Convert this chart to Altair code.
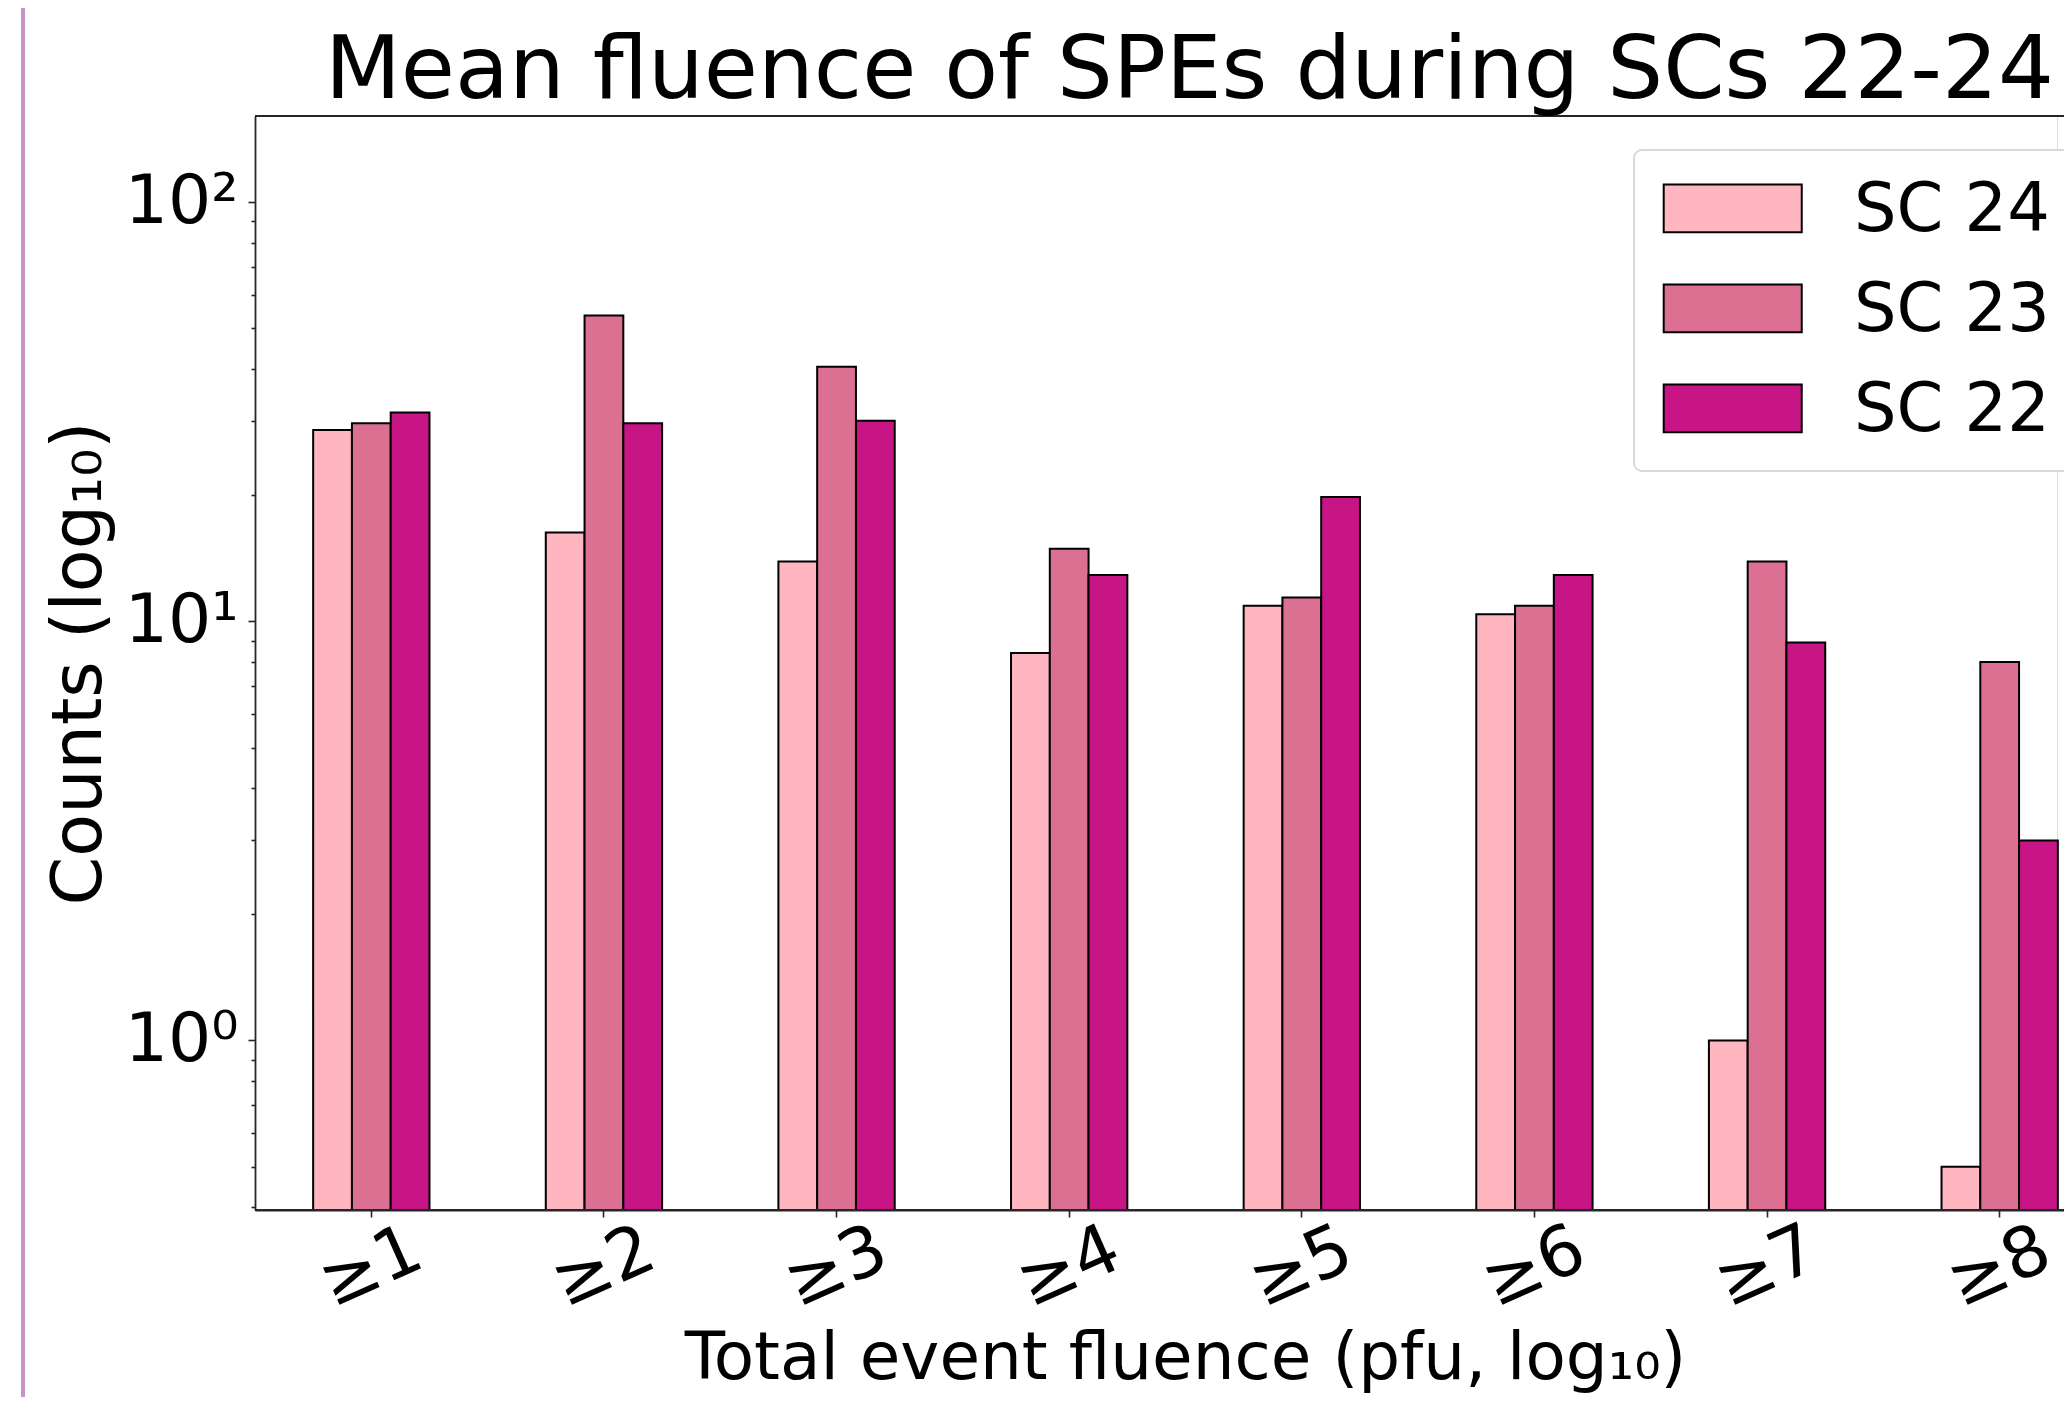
import altair as alt
import pandas as pd

# ---- data ----
title_text = "Mean fluence of SPEs during SCs 22-24"
categories = ["≥1", "≥2", "≥3", "≥4", "≥5", "≥6", "≥7", "≥8"]
series_names = ["SC 24", "SC 23", "SC 22"]
sc24 = [28.6, 16.3, 13.9, 8.4, 10.9, 10.4, 1.0, 0.5]
sc23 = [29.7, 53.7, 40.5, 14.9, 11.4, 10.9, 13.9, 8.0]
sc22 = [31.5, 29.7, 30.1, 12.9, 19.8, 12.9, 8.9, 3.0]
series_colors = ["#FFB6C1", "#DB7093", "#C71585"]
y_tick_values = [1, 10, 100]
y_tick_labels = ["10⁰", "10¹", "10²"]
y_minor_values = [0.4, 0.5, 0.6, 0.7, 0.8, 0.9, 2, 3, 4, 5, 6, 7, 8, 9,
                  20, 30, 40, 50, 60, 70, 80, 90]

rows = []
for name, vals in zip(series_names, [sc24, sc23, sc22]):
    for c, v in zip(categories, vals):
        rows.append({"cat": c, "series": name, "count": v})
df = pd.DataFrame(rows)

FONT = "DejaVu Sans"
W_VIEW = 1802
W_FULL = 1861
H = 1094
PAD_TOP = 108
PAD_BOTTOM = 187

label_expr = " : ".join(
    f"datum.value === {v} ? '{l}'" for v, l in zip(y_tick_values, y_tick_labels)
) + " : ''"
major_test = " || ".join(f"datum.value === {v}" for v in y_tick_values)

bars = alt.Chart(df).mark_bar(stroke="black", strokeWidth=2, opacity=1).encode(
    x=alt.X(
        "cat:N",
        sort=categories,
        scale=alt.Scale(range=[0, W_FULL], paddingInner=0.5, paddingOuter=0.25),
        axis=alt.Axis(
            title="Total event fluence (pfu, log₁₀)",
            titleFont=FONT, titleFontSize=66, titleFontWeight="normal",
            titleColor="black", titleX=930, titleY=168,
            titleAlign="center", titleBaseline="alphabetic",
            labelFont=FONT, labelFontSize=70, labelColor="black",
            labelAngle=336, labelAlign="center", labelBaseline="middle",
            labelPadding=50, tickSize=7, tickColor="#262626", tickWidth=1.6,
            domainColor="#262626", domainWidth=1.8, grid=False,
        ),
    ),
    xOffset=alt.XOffset("series:N", sort=series_names,
                        scale=alt.Scale(paddingInner=0, paddingOuter=0)),
    y=alt.Y(
        "count:Q",
        stack=None,
        scale=alt.Scale(type="log", domain=[0.394, 160.6], nice=False, zero=False),
        axis=alt.Axis(
            title="Counts (log₁₀)",
            titleFont=FONT, titleFontSize=70, titleFontWeight="normal",
            titleColor="black", titleX=-155, titleY=547, titleAngle=270,
            titleAlign="center", titleBaseline="alphabetic",
            values=sorted(y_tick_values + y_minor_values),
            labelExpr=label_expr,
            labelFont=FONT, labelFontSize=68, labelColor="black",
            labelPadding=10, labelBaseline="middle",
            labelOverlap=False, labelFlush=False,
            tickSize={"condition": {"test": major_test, "value": 7}, "value": 4},
            tickColor="#262626", tickWidth=1.6,
            domainColor="#262626", domainWidth=1.8, grid=False,
        ),
    ),
    y2=alt.value(H),
    color=alt.Color(
        "series:N",
        sort=series_names,
        scale=alt.Scale(domain=series_names, range=series_colors),
        legend=alt.Legend(
            title=None, orient="none", legendX=1379, legendY=34,
            symbolType="M-1.1,-0.93H3.83V0.78H-1.1Z", symbolSize=56 * 56,
            symbolStrokeColor="black", symbolStrokeWidth=2, symbolOpacity=1,
            labelFont=FONT, labelFontSize=67, labelColor="black",
            labelLimit=500, labelOffset=126, rowPadding=32, padding=27,
            fillColor="white", strokeColor="#d9d9d9",
            cornerRadius=8,
        ),
    ),
)

aux = pd.DataFrame({"k": [0]})
top_frame = alt.Chart(aux).mark_rule(color="#262626", strokeWidth=2).encode(
    x=alt.value(0), x2=alt.value(W_FULL), y=alt.value(0)
)
bottom_ext = alt.Chart(aux).mark_rule(color="#262626", strokeWidth=1.8).encode(
    x=alt.value(0), x2=alt.value(W_FULL), y=alt.value(H)
)
left_stripe = alt.Chart(aux).mark_rule(color="#C693C8", strokeWidth=4).encode(
    x=alt.value(-232), y=alt.value(-PAD_TOP), y2=alt.value(H + PAD_BOTTOM)
)
title_mark = alt.Chart(aux).mark_text(
    font=FONT, fontSize=88, color="black", align="center", baseline="alphabetic"
).encode(
    x=alt.value(W_FULL / 2 + 4), y=alt.value(-18), text=alt.value(title_text)
)

chart = alt.layer(bars, top_frame, bottom_ext, left_stripe, title_mark).properties(
    width=W_VIEW,
    height=H,
    autosize=alt.AutoSizeParams(type="none"),
    padding={"left": 247, "top": PAD_TOP, "right": 7, "bottom": PAD_BOTTOM},
).configure_view(stroke=None, strokeWidth=0).configure(
    background="white"
).configure_legend(strokeWidth=2)

chart.save("out.html", embed_options={"renderer": "svg", "actions": False})
